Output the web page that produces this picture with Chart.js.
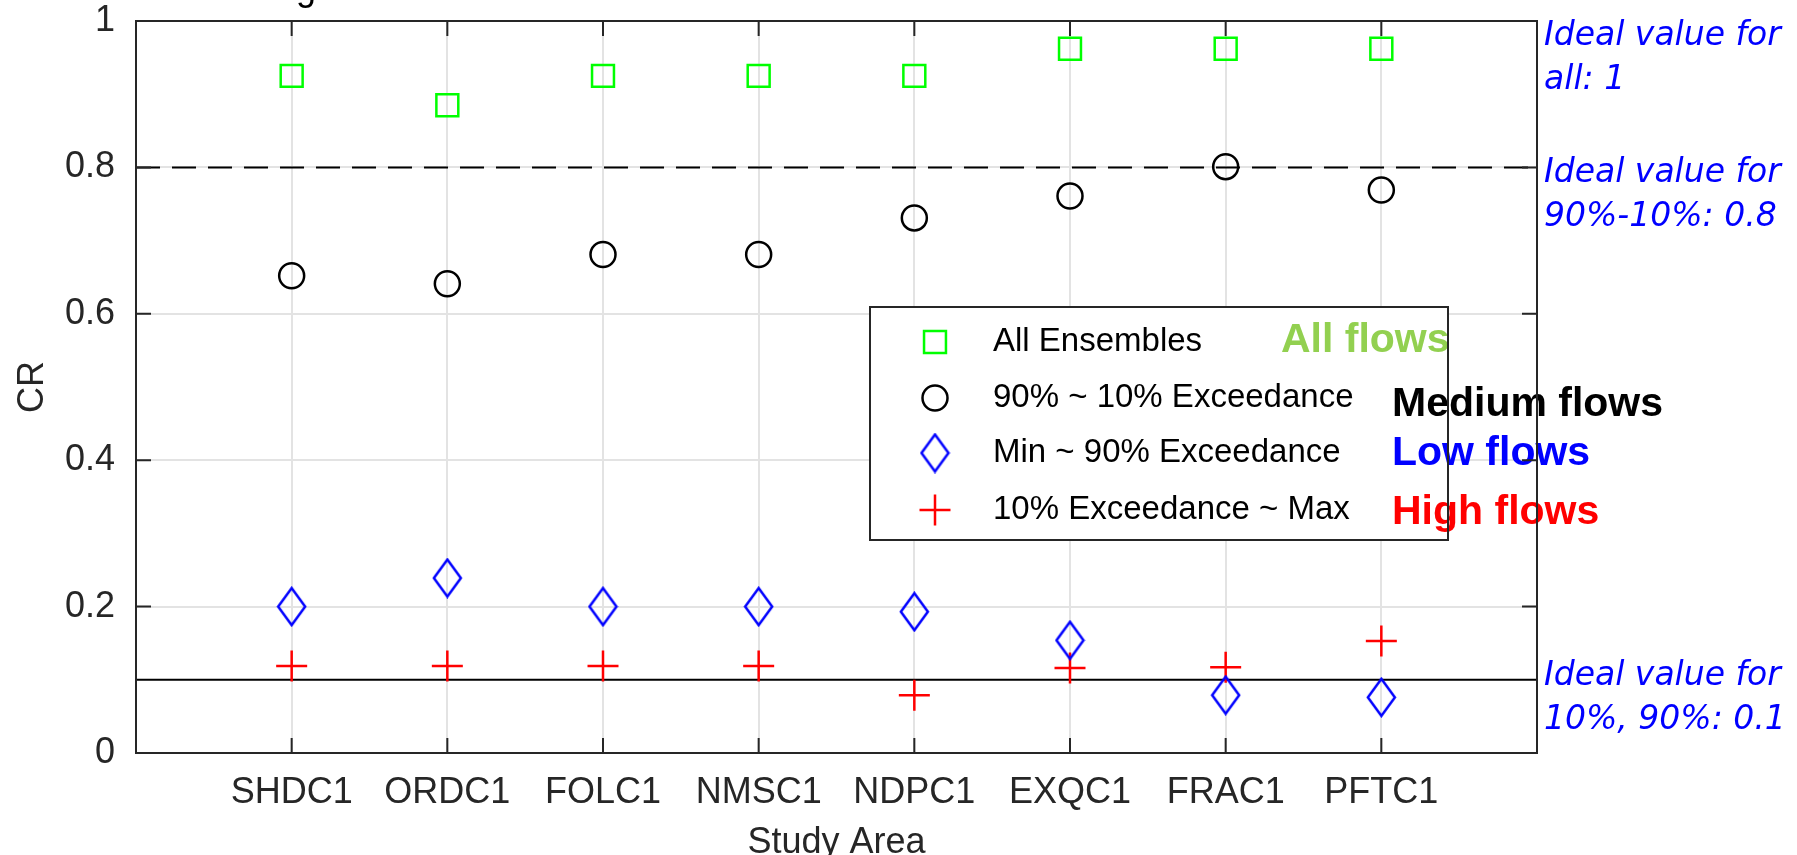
<!DOCTYPE html>
<html>
<head>
<meta charset="utf-8">
<script src="https://cdn.jsdelivr.net/npm/chart.js@4/dist/chart.umd.min.js"></script>
<style>
  html, body { margin: 0; padding: 0; background: #fff; }
  #wrap { width: 1797px; height: 855px; }
</style>
</head>
<body>
<div id="wrap"><canvas id="cr"></canvas></div>
<script>
// stations along the x axis
const stations = ['SHDC1', 'ORDC1', 'FOLC1', 'NMSC1', 'NDPC1', 'EXQC1', 'FRAC1', 'PFTC1'];

// CR values
const allEnsembles = [0.925, 0.885, 0.925, 0.925, 0.925, 0.962, 0.962, 0.962];
const mediumFlows  = [0.652, 0.641, 0.681, 0.681, 0.731, 0.761, 0.801, 0.769];
const lowFlows     = [0.200, 0.239, 0.200, 0.200, 0.193, 0.154, 0.079, 0.076];
const highFlows    = [0.119, 0.119, 0.119, 0.119, 0.079, 0.116, 0.117, 0.153];

const seriesNames = ['All Ensembles', '90% ~ 10% Exceedance', 'Min ~ 90% Exceedance', '10% Exceedance ~ Max'];
const flowLabels = ['All flows', 'Medium flows', 'Low flows', 'High flows'];
const flowColors = ['#92d050', '#000000', '#0000ff', '#ff0000'];

// ideal reference values
const idealMedium = 0.8;
const idealTails = 0.1;
const idealNotes = [
  ['Ideal value for', 'all: 1'],
  ['Ideal value for', '90%-10%: 0.8'],
  ['Ideal value for', '10%, 90%: 0.1']
];
const yTicks = [0, 0.2, 0.4, 0.6, 0.8, 1];

const FONT = '"Liberation Sans", Arial, sans-serif';
const AXIS_COLOR = '#262626';

// tall diamond marker (MATLAB style 'd')
function makeDiamond() {
  const c = document.createElement('canvas');
  c.width = 31; c.height = 41;
  const g = c.getContext('2d');
  g.strokeStyle = '#0000ff';
  g.lineWidth = 2.5;
  g.beginPath();
  g.moveTo(15.5, 2); g.lineTo(29, 20.5); g.lineTo(15.5, 39); g.lineTo(2, 20.5);
  g.closePath();
  g.stroke();
  return c;
}
const diamond = makeDiamond();

function pts(arr) {
  return arr.map(function(v, i) { return {x: i + 1, y: v}; });
}
function hline(v) {
  return [{x: 0, y: v}, {x: stations.length + 1, y: v}];
}

const markerStyles = [
  {pointStyle: 'rect', radius: 15.5, borderColor: '#00ff00', borderWidth: 2.5},
  {pointStyle: 'circle', radius: 12.5, borderColor: '#000000', borderWidth: 2.5},
  {pointStyle: diamond, radius: 18, borderColor: '#0000ff', borderWidth: 2.5},
  {pointStyle: 'cross', radius: 15.5, borderColor: '#ff0000', borderWidth: 2.5}
];
const seriesData = [allEnsembles, mediumFlows, lowFlows, highFlows];

const datasets = seriesData.map(function(d, i) {
  const m = markerStyles[i];
  return {
    label: seriesNames[i],
    data: pts(d),
    showLine: false,
    pointStyle: m.pointStyle,
    pointRadius: m.radius,
    pointBorderColor: m.borderColor,
    pointBackgroundColor: 'rgba(0,0,0,0)',
    pointBorderWidth: m.borderWidth
  };
});
datasets.push({
  label: 'ideal 0.8', data: hline(idealMedium), showLine: true, pointRadius: 0,
  borderColor: '#000', borderWidth: 2, borderDash: [24, 12]
});
datasets.push({
  label: 'ideal 0.1', data: hline(idealTails), showLine: true, pointRadius: 0,
  borderColor: '#000', borderWidth: 2
});

const overlay = {
  id: 'overlay',
  afterDraw: function(chart) {
    const ctx = chart.ctx;
    const a = chart.chartArea;
    const xs = chart.scales.x, ys = chart.scales.y;
    ctx.save();

    // legend box
    const lx = 870, ly = 307, lw = 578, lh = 233;
    ctx.fillStyle = '#fff';
    ctx.fillRect(lx, ly, lw, lh);
    const rows = [342, 398, 453, 510];
    ctx.font = '33px ' + FONT;
    ctx.textBaseline = 'middle';
    ctx.textAlign = 'left';
    for (let i = 0; i < seriesNames.length; i++) {
      const m = markerStyles[i];
      ctx.strokeStyle = m.borderColor;
      ctx.fillStyle = 'rgba(0,0,0,0)';
      ctx.lineWidth = m.borderWidth;
      Chart.helpers.drawPoint(ctx, {pointStyle: m.pointStyle, radius: m.radius, rotation: 0, borderWidth: m.borderWidth}, lx + 65, rows[i]);
      ctx.fillStyle = '#000';
      ctx.fillText(seriesNames[i], lx + 123, rows[i]);
    }

    // flow category labels
    ctx.font = 'bold 41px ' + FONT;
    const fx = [1281, 1392, 1392, 1392];
    const fy = [341, 405, 454, 513];
    for (let i = 0; i < flowLabels.length; i++) {
      ctx.fillStyle = flowColors[i];
      ctx.fillText(flowLabels[i], fx[i], fy[i]);
    }

    ctx.strokeStyle = '#262626';
    ctx.lineWidth = 2;
    ctx.strokeRect(lx, ly, lw, lh);

    // axes box with inward ticks
    ctx.strokeStyle = AXIS_COLOR;
    ctx.lineWidth = 2;
    ctx.beginPath();
    xs.ticks.forEach(function(t) {
      const px = xs.getPixelForValue(t.value);
      ctx.moveTo(px, a.bottom); ctx.lineTo(px, a.bottom - 15);
      ctx.moveTo(px, a.top); ctx.lineTo(px, a.top + 15);
    });
    ys.ticks.forEach(function(t) {
      const py = ys.getPixelForValue(t.value);
      ctx.moveTo(a.left, py); ctx.lineTo(a.left + 15, py);
      ctx.moveTo(a.right, py); ctx.lineTo(a.right - 15, py);
    });
    ctx.stroke();
    ctx.strokeRect(a.left, a.top, a.right - a.left, a.bottom - a.top);

    // ideal value notes on the right
    ctx.fillStyle = '#0000ff';
    ctx.font = 'italic 33px "DejaVu Sans", sans-serif';
    ctx.textBaseline = 'alphabetic';
    const anchors = [1, idealMedium, idealTails];
    const offs = [24, 15, 5];
    for (let i = 0; i < idealNotes.length; i++) {
      const by = ys.getPixelForValue(anchors[i]) + offs[i];
      ctx.fillText(idealNotes[i][0], a.right + 7, by);
      ctx.fillText(idealNotes[i][1], a.right + 7, by + 44);
    }

    // clipped title remnant at the very top
    ctx.fillStyle = '#000';
    ctx.font = '36px ' + FONT;
    ctx.fillText('g', 296, 0);
    ctx.restore();
  }
};

new Chart(document.getElementById('cr'), {
  type: 'scatter',
  data: {datasets: datasets},
  plugins: [overlay],
  options: {
    responsive: true,
    maintainAspectRatio: false,
    animation: false,
    layout: {padding: {top: 21, right: 260, left: 0, bottom: 0}},
    plugins: {legend: {display: false}, tooltip: {enabled: false}},
    scales: {
      x: {
        type: 'linear',
        min: 0,
        max: stations.length + 1,
        afterBuildTicks: function(s) { s.ticks = stations.map(function(_, i) { return {value: i + 1}; }); },
        afterFit: function(s) { s.height = 102; s.paddingLeft = 0; s.paddingRight = 0; },
        grid: {color: '#e3e3e3', lineWidth: 2, drawTicks: false},
        border: {display: false},
        ticks: {
          padding: 18,
          color: AXIS_COLOR,
          font: {family: FONT, size: 36},
          callback: function(v) { return stations[v - 1] || ''; }
        },
        title: {display: true, text: 'Study Area', color: AXIS_COLOR, font: {family: FONT, size: 36, lineHeight: 0.6}, padding: {top: 0, bottom: 1}}
      },
      y: {
        min: 0,
        max: 1,
        afterBuildTicks: function(s) { s.ticks = yTicks.map(function(v) { return {value: v}; }); },
        afterFit: function(s) { s.width = 136; s.paddingTop = 0; s.paddingBottom = 0; },
        grid: {color: '#e3e3e3', lineWidth: 2, drawTicks: false},
        border: {display: false},
        ticks: {
          padding: 21,
          color: AXIS_COLOR,
          font: {family: FONT, size: 36},
          callback: function(v) { return String(Math.round(v * 10) / 10); }
        },
        title: {display: true, text: 'CR', color: AXIS_COLOR, font: {family: FONT, size: 36, lineHeight: 1}, padding: {top: 15, bottom: 0}}
      }
    }
  }
});
</script>
</body>
</html>
